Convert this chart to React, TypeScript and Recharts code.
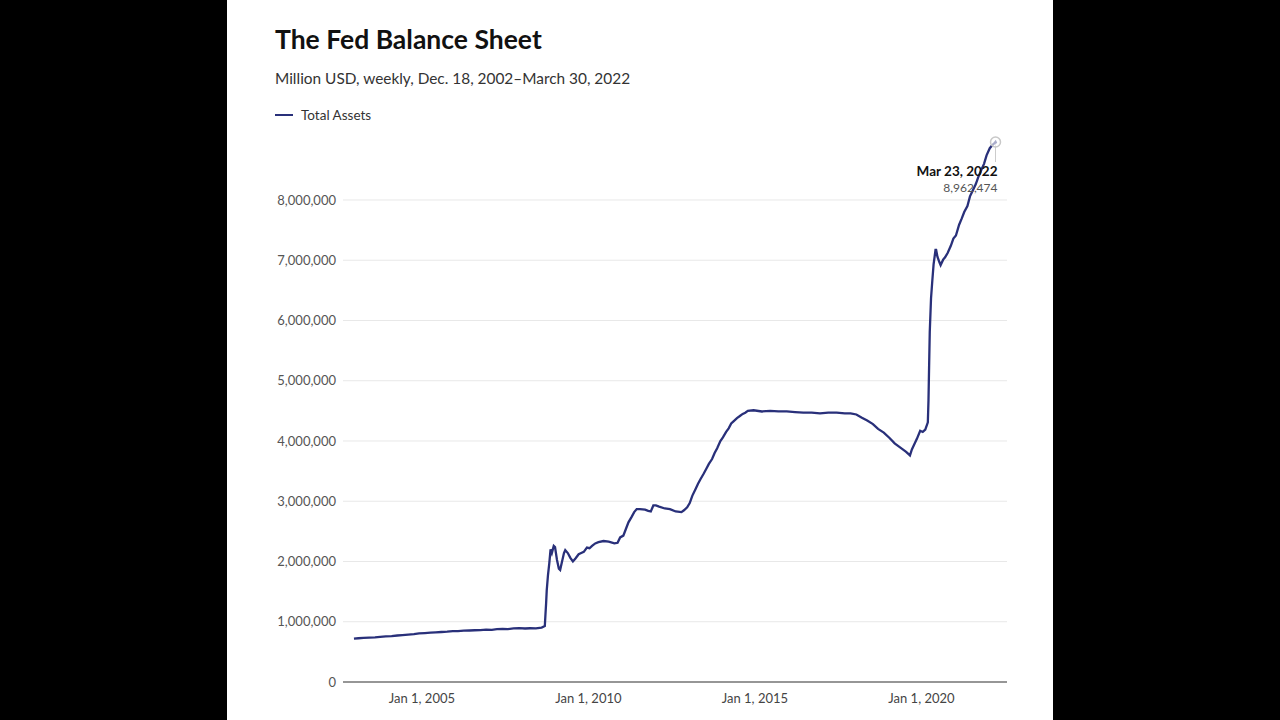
import React from 'react';
import { LineChart, Line, XAxis, YAxis, CartesianGrid, ReferenceDot, ReferenceLine } from 'recharts';

const dates: string[] = [
  '2002-12-18','2003-02-05','2003-04-02','2003-06-04','2003-08-06','2003-10-01','2003-12-03',
  '2004-02-04','2004-04-07','2004-06-02','2004-08-04','2004-10-06','2004-12-01',
  '2005-02-02','2005-04-06','2005-06-01','2005-08-03','2005-10-05','2005-12-07',
  '2006-02-01','2006-04-05','2006-06-07','2006-08-02','2006-10-04','2006-12-06',
  '2007-02-07','2007-04-04','2007-06-06','2007-08-01','2007-10-03','2007-12-05',
  '2008-02-06','2008-04-02','2008-06-04','2008-08-06','2008-09-10','2008-09-17','2008-09-24',
  '2008-10-01','2008-10-15','2008-10-29','2008-11-12','2008-11-26','2008-12-17','2008-12-31',
  '2009-01-21','2009-02-11','2009-02-25','2009-03-18','2009-04-08','2009-04-22','2009-05-20',
  '2009-06-17','2009-07-15','2009-08-12','2009-09-16','2009-10-14','2009-11-11','2009-12-16',
  '2010-01-13','2010-02-10','2010-03-17','2010-04-21','2010-06-16','2010-08-11','2010-10-13',
  '2010-11-17','2010-12-15','2011-01-19','2011-02-16','2011-03-16','2011-04-20','2011-05-18',
  '2011-06-15','2011-07-20','2011-09-14','2011-10-19','2011-11-16','2011-12-14',
  '2012-01-11','2012-02-15','2012-04-18','2012-06-13','2012-08-15','2012-10-17','2012-11-14',
  '2012-12-19','2013-01-16','2013-02-13','2013-03-20','2013-04-17','2013-05-15','2013-06-19',
  '2013-07-17','2013-08-14','2013-09-18','2013-10-16','2013-11-13','2013-12-18',
  '2014-01-15','2014-02-19','2014-03-19','2014-04-16','2014-05-14','2014-06-18','2014-07-16',
  '2014-08-20','2014-09-17','2014-10-15','2014-12-17','2015-03-18','2015-06-17','2015-09-16',
  '2015-12-16','2016-03-16','2016-06-15','2016-09-14','2016-12-14','2017-03-15','2017-06-14',
  '2017-09-13','2017-11-15','2018-01-17','2018-03-14','2018-05-16','2018-07-18','2018-09-12',
  '2018-11-14','2019-01-16','2019-03-13','2019-05-15','2019-07-17','2019-08-28','2019-09-18',
  '2019-10-16','2019-11-13','2019-12-18','2020-01-15','2020-02-12','2020-03-11','2020-03-18',
  '2020-03-25','2020-04-01','2020-04-15','2020-04-29','2020-05-13','2020-06-03','2020-06-10',
  '2020-06-24','2020-07-15','2020-07-29','2020-08-26','2020-09-16','2020-10-14','2020-11-18',
  '2020-12-16','2021-01-13','2021-02-17','2021-03-17','2021-04-14','2021-05-19','2021-06-16',
  '2021-07-14','2021-08-18','2021-09-15','2021-10-13','2021-11-17','2021-12-15','2022-01-19',
  '2022-02-16','2022-03-16','2022-03-23','2022-03-30',
];

const totalAssets: number[] = [
  720000,726000,733000,737000,741000,748000,758000,
  763000,772000,779000,788000,795000,808000,
  812000,818000,823000,830000,836000,845000,
  843000,852000,855000,859000,862000,870000,
  866000,876000,881000,877000,889000,893000,
  888000,892000,891000,903000,928000,1120000,1300000,
  1520000,1780000,1970000,2200000,2140000,2260000,2240000,
  2030000,1880000,1860000,2000000,2140000,2190000,2140000,
  2060000,2000000,2050000,2120000,2140000,2160000,2230000,
  2220000,2260000,2300000,2320000,2340000,2330000,2300000,
  2310000,2400000,2430000,2540000,2650000,2740000,2820000,
  2870000,2870000,2860000,2840000,2830000,2930000,
  2930000,2910000,2880000,2870000,2830000,2820000,2850000,
  2900000,2970000,3090000,3200000,3290000,3370000,3460000,
  3540000,3620000,3700000,3800000,3880000,4000000,
  4060000,4150000,4210000,4290000,4330000,4380000,4410000,
  4450000,4470000,4500000,4510000,4490000,4500000,4490000,
  4490000,4480000,4470000,4470000,4460000,4470000,4470000,
  4460000,4460000,4440000,4390000,4340000,4280000,4200000,
  4140000,4050000,3960000,3890000,3820000,3760000,3860000,
  3950000,4040000,4170000,4150000,4190000,4310000,4670000,
  5250000,5810000,6370000,6660000,6930000,7170000,7170000,
  7060000,6970000,6920000,7010000,7050000,7120000,7240000,
  7360000,7410000,7590000,7690000,7800000,7900000,8060000,
  8150000,8260000,8380000,8480000,8600000,8740000,8860000,
  8910000,8950000,8962474,8937000,
];

const yTicks: number[] = [0, 1000000, 2000000, 3000000, 4000000, 5000000, 6000000, 7000000, 8000000];
const xTickYears: number[] = [2005, 2010, 2015, 2020];
const highlightDate = '2022-03-23';
const highlightValue = 8962474;

const toTs = (d: string) => {
  const [y, m, day] = d.split('-').map(Number);
  return Date.UTC(y, m - 1, day);
};

const data = dates.map((d, i) => ({ t: toTs(d), v: totalAssets[i] }));
const xTicks = xTickYears.map((y) => Date.UTC(y, 0, 1));
const xDomain = [Date.UTC(2002, 7, 20), Date.UTC(2022, 6, 27)];

const MONTHS = ['Jan','Feb','Mar','Apr','May','Jun','Jul','Aug','Sep','Oct','Nov','Dec'];
const fmtDate = (ts: number) => {
  const d = new Date(ts);
  return `${MONTHS[d.getUTCMonth()]} ${d.getUTCDate()}, ${d.getUTCFullYear()}`;
};
const fmtNum = (n: number) => n.toLocaleString('en-US');

const FONT = 'Lato, "Source Sans Pro", "Noto Sans", sans-serif';
const LINE = '#29307a';

const HighlightLabel = (props: any) => {
  const vb = props.viewBox || {};
  const cx = (vb.x || 0) + (vb.width || 0) / 2;
  const cy = (vb.y || 0) + (vb.height || 0) / 2;
  return (
    <g>
      <text x={cx + 2} y={cy + 34} textAnchor="end" fontFamily={FONT} fontSize={13.5} fontWeight={700} fill="#111">
        {fmtDate(toTs(highlightDate))}
      </text>
      <text x={cx + 2} y={cy + 50} textAnchor="end" fontFamily={FONT} fontSize={12} fill="#555">
        {fmtNum(highlightValue)}
      </text>
    </g>
  );
};

export default function App() {
  return (
    <div style={{ position: 'fixed', left: 0, top: 0, width: 1280, height: 720, background: '#000', overflow: 'hidden' }}>
      <div style={{ position: 'absolute', left: 227, top: 0, width: 826, height: 720, background: '#fff' }} />
      <div style={{ position: 'absolute', left: 275, top: 23, fontFamily: FONT, fontWeight: 700, fontSize: 26.5, lineHeight: '32px', color: '#111', whiteSpace: 'nowrap' }}>
        The Fed Balance Sheet
      </div>
      <div style={{ position: 'absolute', left: 275, top: 68, fontFamily: FONT, fontSize: 15.4, lineHeight: '20px', color: '#333', whiteSpace: 'nowrap' }}>
        Million USD, weekly, Dec. 18, 2002–March 30, 2022
      </div>
      <div style={{ position: 'absolute', left: 275, top: 106, display: 'flex', alignItems: 'center', fontFamily: FONT, fontSize: 13.5, lineHeight: '18px', color: '#333', whiteSpace: 'nowrap' }}>
        <span style={{ display: 'inline-block', width: 18, height: 2, background: LINE, marginRight: 8 }} />
        Total Assets
      </div>
      <div style={{ position: 'absolute', left: 0, top: 0 }}>
        <LineChart width={1280} height={720} data={data} margin={{ top: 142, right: 273, bottom: 0, left: 283 }}>
          <CartesianGrid horizontal vertical={false} horizontalValues={yTicks} stroke="#e8e8e8" strokeWidth={1} />
          <XAxis
            dataKey="t"
            type="number"
            domain={xDomain}
            ticks={xTicks}
            tickFormatter={fmtDate}
            allowDataOverflow
            axisLine={{ stroke: '#777', strokeWidth: 1.5 }}
            tickLine={false}
            tickSize={6}
            tickMargin={6}
            tick={{ fontFamily: FONT, fontSize: 13, fill: '#444' }}
            height={38}
          />
          <YAxis
            type="number"
            domain={[0, 'dataMax']}
            ticks={yTicks}
            tickFormatter={fmtNum}
            axisLine={false}
            tickLine={false}
            tickSize={6}
            tickMargin={1}
            width={60}
            tick={{ fontFamily: FONT, fontSize: 13, fill: '#555' }}
          />
          <ReferenceLine
            segment={[{ x: toTs(highlightDate), y: highlightValue }, { x: toTs(highlightDate), y: 8630000 }]}
            stroke="#ccc"
            strokeWidth={1}
          />
          <Line type="linear" dataKey="v" stroke={LINE} strokeWidth={2.3} dot={false} isAnimationActive={false} />
          <ReferenceDot
            x={toTs(highlightDate)}
            y={highlightValue}
            r={5}
            fill="rgba(255,255,255,0.6)"
            stroke="#c8c8c8"
            strokeWidth={1.5}
            label={<HighlightLabel />}
          />
        </LineChart>
      </div>
    </div>
  );
}
